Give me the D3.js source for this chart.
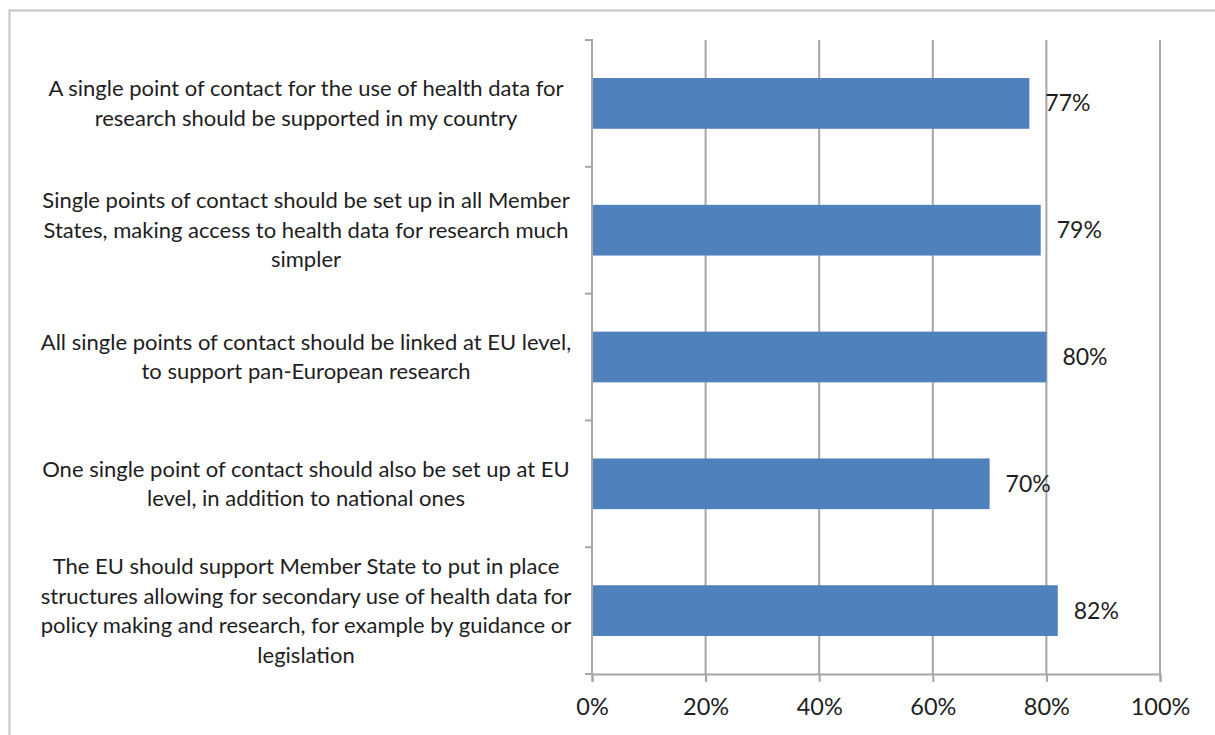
<!DOCTYPE html>
<html>
<head>
<meta charset="utf-8">
<script src="https://cdn.jsdelivr.net/npm/d3@7"></script>
<style>
  html, body { margin: 0; padding: 0; background: #fff; }
  svg { display: block; }
  text { font-family: Lato, "Open Sans", sans-serif; fill: #1e1e1e; }
</style>
</head>
<body>
<svg id="chart" width="1215" height="735"></svg>
<script>
// Survey statements (line breaks as they appear on the axis)
const categories = [
  "A single point of contact for the use of health data for\nresearch should be supported in my country",
  "Single points of contact should be set up in all Member\nStates, making access to health data for research much\nsimpler",
  "All single points of contact should be linked at EU level,\nto support pan-European research",
  "One single point of contact should also be set up at EU\nlevel, in addition to national ones",
  "The EU should support Member State to put in place\nstructures allowing for secondary use of health data for\npolicy making and research, for example by guidance or\nlegislation"
];
// Share of respondents agreeing (%)
const values = [77, 79, 80, 70, 82];
// Horizontal axis ticks (%)
const tickValues = [0, 20, 40, 60, 80, 100];

const svg = d3.select("#chart");

const plot = { left: 592, right: 1160, top: 40, bottom: 674 };

// Outer chart frame (runs off the right and bottom edges)
svg.append("rect")
  .attr("x", 9.5).attr("y", 10.5)
  .attr("width", 1400).attr("height", 900)
  .attr("fill", "none")
  .attr("stroke", "#c4c4c4")
  .attr("stroke-width", 2);

const x = d3.scaleLinear().domain([0, 100]).range([plot.left, plot.right]);
const y = d3.scaleBand()
  .domain(categories)
  .range([plot.top, plot.bottom])
  .paddingInner(0.6)
  .paddingOuter(0.3);

const gridColor = "#a6a6a6";

// Vertical gridlines
svg.append("g")
  .selectAll("line")
  .data(tickValues.filter(d => d > 0))
  .join("line")
  .attr("x1", d => x(d)).attr("x2", d => x(d))
  .attr("y1", plot.top).attr("y2", plot.bottom)
  .attr("stroke", gridColor)
  .attr("stroke-width", 2);

// Bars
svg.append("g")
  .selectAll("rect")
  .data(values)
  .join("rect")
  .attr("x", x(0))
  .attr("y", (d, i) => y(categories[i]))
  .attr("width", d => x(d) - x(0))
  .attr("height", y.bandwidth())
  .attr("fill", "#4f81bd");

// Value labels
svg.append("g")
  .selectAll("text")
  .data(values)
  .join("text")
  .attr("x", d => x(d) + 16)
  .attr("y", (d, i) => y(categories[i]) + y.bandwidth() / 2)
  .attr("dy", "0.35em")
  .style("font-size", "23px")
  .text(d => d + "%");

// Bottom axis
const xAxis = svg.append("g")
  .attr("transform", `translate(0,${plot.bottom})`)
  .call(d3.axisBottom(x).tickValues(tickValues).tickFormat(d => d + "%").tickSize(8).tickPadding(16));
xAxis.select(".domain").attr("stroke", gridColor).attr("stroke-width", 2);
xAxis.selectAll(".tick line").attr("stroke", gridColor).attr("stroke-width", 2);
xAxis.selectAll(".tick text")
  .style("font-size", "23.5px")
  .style("font-family", "Lato, sans-serif")
  .attr("fill", "#1e1e1e");

// Left axis: line with ticks at category boundaries
const boundaries = d3.range(categories.length + 1).map(i => plot.top + i * (plot.bottom - plot.top) / categories.length);
const yAxisG = svg.append("g");
yAxisG.append("line")
  .attr("x1", plot.left).attr("x2", plot.left)
  .attr("y1", plot.top - 1).attr("y2", plot.bottom)
  .attr("stroke", gridColor).attr("stroke-width", 2);
yAxisG.selectAll("line.tick")
  .data(boundaries)
  .join("line")
  .attr("class", "tick")
  .attr("x1", plot.left - 7).attr("x2", plot.left)
  .attr("y1", d => d).attr("y2", d => d)
  .attr("stroke", gridColor).attr("stroke-width", 2);

// Category labels, centred in the label column
const labelCenter = 306;
const lineHeight = 29.5;
const labels = svg.append("g")
  .selectAll("text")
  .data(categories)
  .join("text")
  .attr("text-anchor", "middle")
  .style("font-size", "22px");
labels.each(function(d) {
  const lines = d.split("\n");
  const cy = y(d) + y.bandwidth() / 2;
  const y0 = cy - (lines.length - 1) * lineHeight / 2;
  d3.select(this).selectAll("tspan")
    .data(lines)
    .join("tspan")
    .attr("x", labelCenter)
    .attr("y", (l, i) => y0 + i * lineHeight)
    .attr("dy", "0.35em")
    .text(l => l);
});
</script>
</body>
</html>
